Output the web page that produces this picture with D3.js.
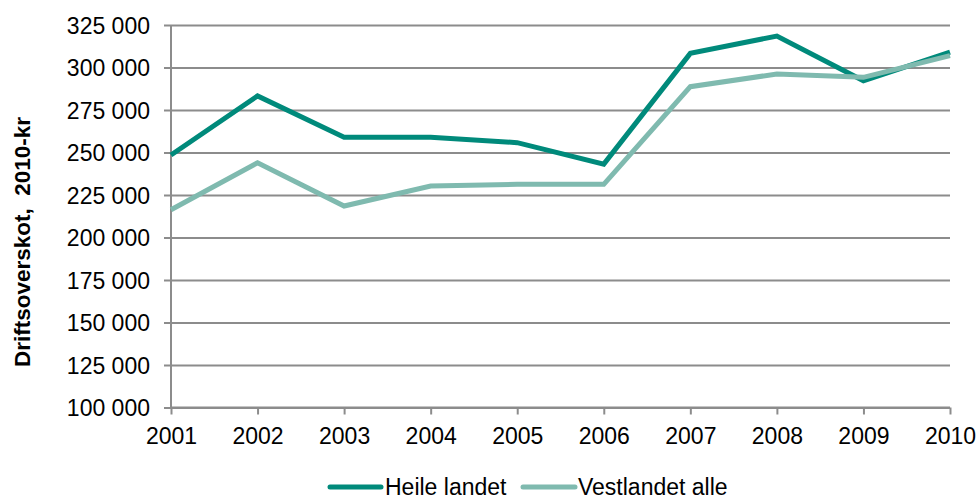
<!DOCTYPE html>
<html><head><meta charset="utf-8">
<script src="https://cdn.jsdelivr.net/npm/d3@7"></script>
<style>body{margin:0;background:#fff}svg{display:block;font-family:"Liberation Sans",Arial,sans-serif}</style>
</head><body><svg id="c" width="979" height="500"></svg>
<script>
const years = ["2001","2002","2003","2004","2005","2006","2007","2008","2009","2010"];
const heileLandet = [248500,283300,259000,259000,255800,243200,308300,318500,292200,309000];
const vestlandetAlle = [216300,244000,218500,230300,231300,231300,288700,296200,294200,307000];
const yTicks = [100000,125000,150000,175000,200000,225000,250000,275000,300000,325000];
const seriesNames = ["Heile landet","Vestlandet alle"];
const colors = ["#008a7b","#7fbaaf"];

const svg = d3.select("#c");
const x = d3.scalePoint().domain(years).range([171,950]);
const y = d3.scaleLinear().domain([100000,325000]).range([407.5,25]);
const fmt = v => d3.format(",")(v).replace(/,/g," ");

// gridlines + y axis
const ya = svg.append("g").attr("transform","translate(171,0)")
  .call(d3.axisLeft(y).tickValues(yTicks).tickFormat(fmt).tickSize(7).tickPadding(14));
ya.select(".domain").remove();
ya.selectAll(".tick line").attr("stroke","#8c8c8c").attr("stroke-width",2).attr("x2",950-171).attr("x1",-7);
ya.selectAll(".tick text").attr("font-size",23).attr("fill","#000").attr("dy","0.35em");

svg.append("line").attr("x1",171).attr("x2",171).attr("y1",25).attr("y2",407.5)
  .attr("stroke","#8c8c8c").attr("stroke-width",2);

const xa = svg.append("g").attr("transform","translate(0,407.5)")
  .call(d3.axisBottom(x).tickSize(7).tickPadding(13));
xa.select(".domain").attr("stroke","#8c8c8c").attr("stroke-width",2).attr("d","M171,0H950");
xa.selectAll(".tick line").attr("stroke","#8c8c8c").attr("stroke-width",2);
xa.selectAll(".tick text").attr("font-size",23).attr("fill","#000");

const line = d3.line().x((d,i)=>x(years[i])).y(d=>y(d));
[heileLandet, vestlandetAlle].forEach((s,k)=>{
  svg.append("path").datum(s).attr("d",line).attr("fill","none")
    .attr("stroke",colors[k]).attr("stroke-width",5).attr("stroke-linejoin","miter");
});
// draw dark on top? reference shows light on top at end
svg.append("text").attr("transform","translate(30,242) rotate(-90)")
  .attr("text-anchor","middle").attr("font-size",22.5).attr("font-weight","bold")
  .attr("xml:space","preserve").style("white-space","pre")
  .text("Driftsoverskot,  2010-kr");

// legend
const lg = [{x1:330,x2:381,tx:385},{x1:523,x2:575,tx:578}];
seriesNames.forEach((n,k)=>{
  svg.append("line").attr("x1",lg[k].x1).attr("x2",lg[k].x2).attr("y1",487).attr("y2",487)
    .attr("stroke",colors[k]).attr("stroke-width",5).attr("stroke-linecap","round");
  svg.append("text").attr("x",lg[k].tx).attr("y",487).attr("dy","0.35em")
    .attr("font-size",23).attr("fill","#000").text(n);
});
</script></body></html>
